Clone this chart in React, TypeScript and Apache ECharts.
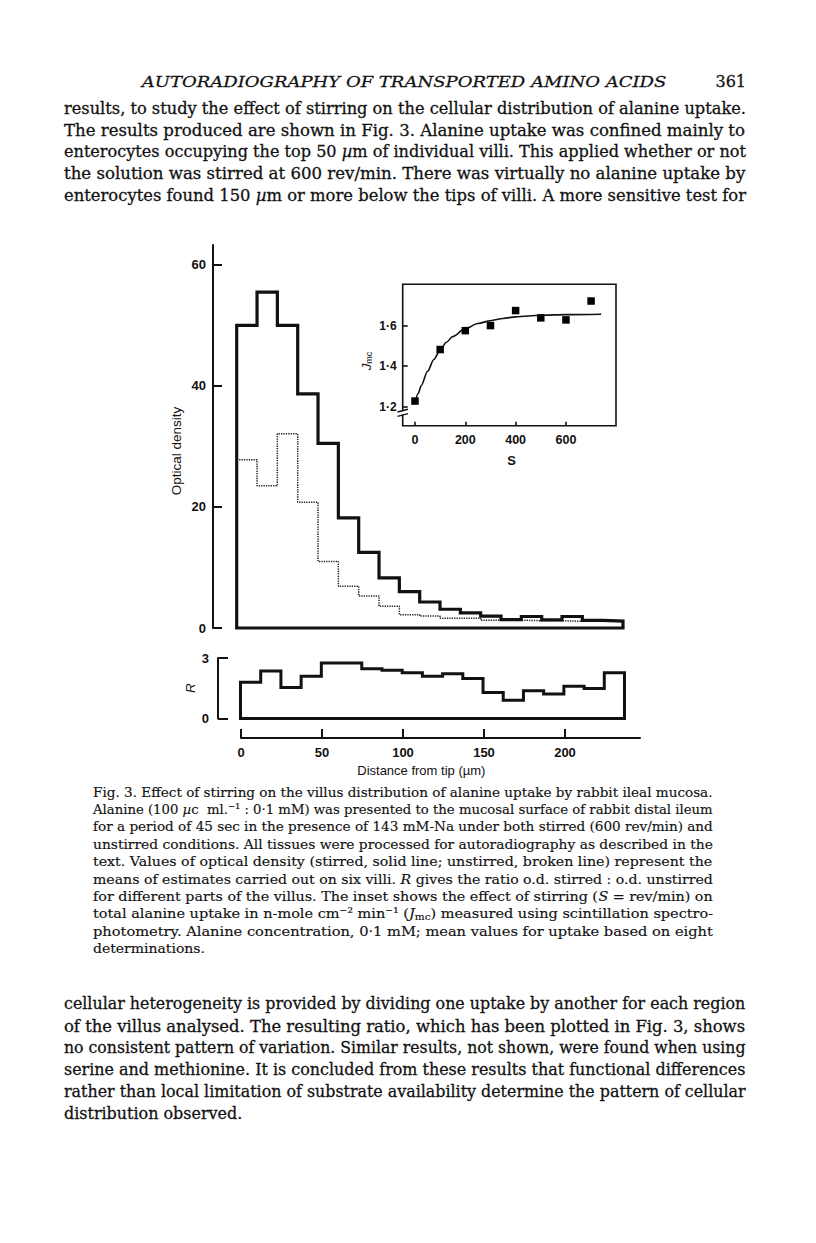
import React, { useEffect, useRef } from 'react';
import * as echarts from 'echarts';

// ---------------- data ----------------
const binEdges = [0, 12.5, 25, 37.5, 50, 62.5, 75, 87.5, 100, 112.5, 125, 137.5, 150, 162.5, 175, 187.5, 200, 212.5, 225, 237.5];
const stirredOD = [50, 55.5, 50, 38.7, 30.5, 18.2, 12.5, 8.3, 6.0, 4.3, 3.1, 2.5, 1.95, 1.4, 1.9, 1.35, 1.9, 1.25, 1.15];
const unstirredOD = [27.8, 23.5, 32.1, 20.8, 11.0, 6.9, 5.3, 3.6, 2.2, 2.0, 1.6, 1.6, 1.3, 1.3, 1.2, 1.2, 1.1, 1.1, 1.1];
const ratioR = [1.8, 2.35, 1.54, 2.09, 2.75, 2.75, 2.47, 2.39, 2.27, 2.09, 2.22, 1.98, 1.29, 0.91, 1.37, 1.21, 1.6, 1.49, 2.27];
const distanceTicks = [0, 50, 100, 150, 200];
const odTicks = [0, 20, 40, 60];
const rTicks = [0, 3];

const stirRate = [0, 100, 200, 300, 400, 500, 600, 700];
const jmcMeasured = [1.228, 1.482, 1.575, 1.6, 1.674, 1.638, 1.628, 1.721];
const fitRate = [0, 12.5, 25, 50, 75, 100, 125, 150, 200, 250, 300, 350, 400, 500, 600, 740];
const fitJmc = [1.22, 1.265, 1.305, 1.375, 1.433, 1.48, 1.518, 1.546, 1.585, 1.61, 1.624, 1.635, 1.643, 1.651, 1.654, 1.656];
const insetXTicks = [0, 200, 400, 600];
const insetYTicks = [1.2, 1.4, 1.6];

// ---------------- text ----------------
const headerTitle = 'AUTORADIOGRAPHY OF TRANSPORTED AMINO ACIDS';
const pageNumber = '361';
const paragraphTop = [
  'results, to study the effect of stirring on the cellular distribution of alanine uptake.',
  'The results produced are shown in Fig. 3. Alanine uptake was confined mainly to',
  'enterocytes occupying the top 50 {i|µ}m of individual villi. This applied whether or not',
  'the solution was stirred at 600 rev/min. There was virtually no alanine uptake by',
  'enterocytes found 150 {i|µ}m or more below the tips of villi. A more sensitive test for',
];
const captionLines = [
  'Fig. 3. Effect of stirring on the villus distribution of alanine uptake by rabbit ileal mucosa.',
  'Alanine (100 {i|µ}c  ml.⁻¹ : 0·1 mM) was presented to the mucosal surface of rabbit distal ileum',
  'for a period of 45 sec in the presence of 143 mM-Na under both stirred (600 rev/min) and',
  'unstirred conditions. All tissues were processed for autoradiography as described in the',
  'text. Values of optical density (stirred, solid line; unstirred, broken line) represent the',
  'means of estimates carried out on six villi. {i|R} gives the ratio o.d. stirred : o.d. unstirred',
  'for different parts of the villus. The inset shows the effect of stirring ({i|S} = rev/min) on',
  'total alanine uptake in n-mole cm⁻² min⁻¹ ({i|J}{sub|mc}) measured using scintillation spectro-',
  'photometry. Alanine concentration, 0·1 mM; mean values for uptake based on eight',
  'determinations.',
];
const paragraphBottom = [
  'cellular heterogeneity is provided by dividing one uptake by another for each region',
  'of the villus analysed. The resulting ratio, which has been plotted in Fig. 3, shows',
  'no consistent pattern of variation. Similar results, not shown, were found when using',
  'serine and methionine. It is concluded from these results that functional differences',
  'rather than local limitation of substrate availability determine the pattern of cellular',
  'distribution observed.',
];
const odAxisName = 'Optical density';
const rAxisName = 'R';
const distanceAxisName = 'Distance from tip (µm)';
const insetXName = 'S';

// ---------------- helpers ----------------
const SERIF = '"DejaVu Serif", "Liberation Serif", serif';
const SANS = '"Liberation Sans", Arial, Helvetica, sans-serif';
const INK = '#111';

let mctx: CanvasRenderingContext2D | null = null;
function measure(text: string, font: string): number {
  if (!mctx) mctx = document.createElement('canvas').getContext('2d');
  mctx!.font = font;
  return mctx!.measureText(text).width;
}
function parseRich(line: string) {
  const re = /\{(\w+)\|([^}]*)\}/g;
  const out: { s: string | null; t: string }[] = [];
  let last = 0;
  let m: RegExpExecArray | null;
  while ((m = re.exec(line))) {
    if (m.index > last) out.push({ s: null, t: line.slice(last, m.index) });
    out.push({ s: m[1], t: m[2] });
    last = re.lastIndex;
  }
  if (last < line.length) out.push({ s: null, t: line.slice(last) });
  return out;
}
function richWidth(line: string, size: number, italicBase: boolean) {
  return parseRich(line).reduce((w, seg) => {
    let font: string;
    if (seg.s === 'sub') font = `${size * 0.72}px ${SERIF}`;
    else if (seg.s === 'i' || italicBase) font = `italic ${size}px ${SERIF}`;
    else font = `${size}px ${SERIF}`;
    return w + measure(seg.t, font);
  }, 0);
}
function richStyles(size: number, stroke: number) {
  return {
    i: { fontStyle: 'italic', fontFamily: SERIF, fontSize: size, lineHeight: size * 1.2, fill: INK, stroke: INK, lineWidth: stroke },
    sub: { fontFamily: SERIF, fontSize: size * 0.72, lineHeight: size * 0.7, verticalAlign: 'bottom', fill: INK, stroke: INK, lineWidth: stroke },
  };
}

interface Block {
  lines: string[];
  left: number;
  right: number;
  top: number;
  spacing: number;
  size: number;
  lastFree: boolean;
  italic?: boolean;
  stroke: number;
}
function textBlock(b: Block) {
  const W = b.right - b.left;
  const scales = b.lines.map((l) => W / richWidth(l, b.size, !!b.italic));
  const just = scales.filter((_, i) => !(b.lastFree && i === b.lines.length - 1));
  const avg = just.reduce((a, c) => a + c, 0) / just.length;
  return b.lines.map((l, i) => ({
    type: 'text',
    x: b.left,
    y: b.top + i * b.spacing,
    scaleX: b.lastFree && i === b.lines.length - 1 ? avg : scales[i],
    silent: true,
    z: 50,
    style: {
      text: l,
      fontFamily: SERIF,
      fontSize: b.size,
      fontStyle: b.italic ? 'italic' : 'normal',
      lineHeight: b.size * 1.2,
      fill: INK,
      stroke: INK,
      lineWidth: b.stroke,
      align: 'left',
      verticalAlign: 'middle',
      rich: richStyles(b.size, b.stroke),
    },
  }));
}

function stepOutline(values: number[]) {
  const pts: number[][] = [[binEdges[0], 0]];
  values.forEach((v, i) => pts.push([binEdges[i], v]));
  const lastEdge = binEdges[binEdges.length - 1];
  pts.push([lastEdge, values[values.length - 1]]);
  pts.push([lastEdge, 0]);
  pts.push([binEdges[0], 0]);
  return pts;
}
function stepOpen(values: number[]) {
  const pts: number[][] = values.map((v, i) => [binEdges[i], v]);
  pts.push([binEdges[binEdges.length - 1], values[values.length - 1]]);
  return pts;
}

const tickLabelStyle = { fontFamily: SANS, fontWeight: 'bold', fontSize: 13, color: INK };

function buildOption() {
  // panel geometry
  const main = { left: 236.7, top: 245, width: 386.3, height: 383 };
  const mainAxis = { left: 213, top: 245, width: 20, height: 383 };
  const rp = { left: 240.5, top: 658, width: 384, height: 60.5 };
  const rAxis = { left: 218, top: 658, width: 20, height: 60.5 };
  const ax = { left: 241, top: 737, width: 399, height: 1 };
  const ins = { left: 402.7, top: 284.3, width: 213.3, height: 141.4 };

  const graphics: any[] = [];
  graphics.push(
    ...textBlock({ lines: [headerTitle], left: 141.7, right: 666.7, top: 81.7, spacing: 0, size: 15.5, lastFree: false, italic: true, stroke: 0.25 })
  );
  graphics.push({
    type: 'text', x: 746, y: 81.7, silent: true, z: 50,
    style: { text: pageNumber, fontFamily: SERIF, fontSize: 16, fill: INK, stroke: INK, lineWidth: 0.3, align: 'right', verticalAlign: 'middle' },
  });
  graphics.push(...textBlock({ lines: paragraphTop, left: 64, right: 746, top: 108.3, spacing: 21.7, size: 17, lastFree: false, stroke: 0.3 }));
  graphics.push(...textBlock({ lines: captionLines, left: 93, right: 713, top: 791.7, spacing: 17.4, size: 13.5, lastFree: true, stroke: 0.15 }));
  graphics.push(...textBlock({ lines: paragraphBottom, left: 64, right: 746, top: 1003.5, spacing: 21.9, size: 17, lastFree: true, stroke: 0.3 }));

  // chart labels
  graphics.push({
    type: 'text', x: 176.7, y: 451, rotation: Math.PI / 2, silent: true, z: 50,
    style: { text: odAxisName, fontFamily: SANS, fontSize: 13.5, fill: INK, align: 'center', verticalAlign: 'middle' },
  });
  graphics.push({
    type: 'text', x: 190, y: 688, rotation: Math.PI / 2, silent: true, z: 50,
    style: { text: rAxisName, fontFamily: SANS, fontStyle: 'italic', fontSize: 13.5, fill: INK, align: 'center', verticalAlign: 'middle' },
  });
  graphics.push({
    type: 'text', x: 421.3, y: 770.7, silent: true, z: 50,
    style: { text: distanceAxisName, fontFamily: SANS, fontSize: 13, fill: INK, align: 'center', verticalAlign: 'middle' },
  });
  graphics.push({
    type: 'text', x: 511.7, y: 460, silent: true, z: 50,
    style: { text: insetXName, fontFamily: SANS, fontWeight: 'bold', fontSize: 13, fill: INK, align: 'center', verticalAlign: 'middle' },
  });
  graphics.push({
    type: 'text', x: 366.5, y: 361, rotation: Math.PI / 2, silent: true, z: 50,
    style: {
      text: '{j|J}{s|mc}', align: 'center', verticalAlign: 'middle', fill: INK,
      rich: {
        j: { fontFamily: SANS, fontStyle: 'italic', fontSize: 13.5, lineHeight: 14, fill: INK },
        s: { fontFamily: SANS, fontSize: 9, lineHeight: 8, verticalAlign: 'bottom', fill: INK },
      },
    },
  });
  // axis break on the inset's y axis
  graphics.push({ type: 'rect', silent: true, z: 60, shape: { x: 400.5, y: 410.6, width: 5, height: 4 }, style: { fill: '#fff' } });
  graphics.push({ type: 'line', silent: true, z: 61, shape: { x1: 397.5, y1: 412, x2: 408, y2: 409.2 }, style: { stroke: INK, lineWidth: 1.4 } });
  graphics.push({ type: 'line', silent: true, z: 61, shape: { x1: 397.5, y1: 416.4, x2: 408, y2: 413.6 }, style: { stroke: INK, lineWidth: 1.4 } });

  const noLine = { show: false, onZero: false };
  return {
    animation: false,
    backgroundColor: '#fff',
    grid: [
      { ...main, containLabel: false },
      { ...rp, containLabel: false },
      { ...ax, containLabel: false },
      { ...ins, containLabel: false, show: true, borderColor: INK, borderWidth: 1.6, backgroundColor: '#fff' },
      { ...mainAxis, containLabel: false },
      { ...rAxis, containLabel: false },
    ],
    xAxis: [
      { gridIndex: 0, type: 'value', min: 0, max: 237.5, show: false, axisLine: noLine },
      { gridIndex: 1, type: 'value', min: 0, max: 237.5, show: false, axisLine: noLine },
      {
        gridIndex: 2, type: 'value', min: 0, max: 246.3, position: 'bottom',
        axisLine: { show: true, onZero: false, lineStyle: { color: INK, width: 2 } },
        axisTick: { show: true, inside: true, length: 9, lineStyle: { color: INK, width: 2 }, customValues: distanceTicks },
        axisLabel: { ...tickLabelStyle, margin: 8, customValues: distanceTicks },
        splitLine: { show: false },
      },
      {
        gridIndex: 3, type: 'value', min: -48.9, max: 799, position: 'bottom',
        axisLine: noLine,
        axisTick: { show: true, inside: true, length: 4, lineStyle: { color: INK, width: 1.6 }, customValues: insetXTicks },
        axisLabel: { ...tickLabelStyle, fontSize: 12.5, margin: 8, customValues: insetXTicks },
        splitLine: { show: false },
      },
      { gridIndex: 4, type: 'value', min: 0, max: 1, show: false, axisLine: noLine },
      { gridIndex: 5, type: 'value', min: 0, max: 1, show: false, axisLine: noLine },
    ],
    yAxis: [
      { gridIndex: 0, type: 'value', min: 0, max: 63.3, show: false, axisLine: noLine },
      { gridIndex: 1, type: 'value', min: 0, max: 3, show: false, axisLine: noLine },
      { gridIndex: 2, type: 'value', min: 0, max: 1, show: false, axisLine: noLine },
      {
        gridIndex: 3, type: 'value', min: 1.1066, max: 1.8034, position: 'left',
        axisLine: noLine,
        axisTick: { show: true, inside: true, length: 5, lineStyle: { color: INK, width: 1.6 }, customValues: insetYTicks },
        axisLabel: {
          ...tickLabelStyle, fontSize: 12, margin: 6, customValues: insetYTicks,
          formatter: (v: number) => v.toFixed(1).replace('.', '·'),
        },
        splitLine: { show: false },
      },
      {
        gridIndex: 4, type: 'value', min: 0, max: 63.3, position: 'left',
        axisLine: { show: true, onZero: false, lineStyle: { color: INK, width: 2 } },
        axisTick: { show: true, inside: true, length: 9, lineStyle: { color: INK, width: 2 }, customValues: odTicks },
        axisLabel: { ...tickLabelStyle, margin: 7, customValues: odTicks },
        splitLine: { show: false },
      },
      {
        gridIndex: 5, type: 'value', min: 0, max: 3, position: 'left',
        axisLine: { show: true, onZero: false, lineStyle: { color: INK, width: 2 } },
        axisTick: { show: true, inside: true, length: 10, lineStyle: { color: INK, width: 2 }, customValues: rTicks },
        axisLabel: { ...tickLabelStyle, margin: 9, customValues: rTicks },
        splitLine: { show: false },
      },
    ],
    series: [
      {
        name: 'unstirred', type: 'line', xAxisIndex: 0, yAxisIndex: 0, step: 'end',
        data: stepOpen(unstirredOD), showSymbol: false, symbol: 'none', clip: false, z: 2,
        lineStyle: { color: '#222', width: 1.5, type: [1.3, 1.1] },
      },
      {
        name: 'stirred', type: 'line', xAxisIndex: 0, yAxisIndex: 0, step: 'end',
        data: stepOutline(stirredOD), showSymbol: false, symbol: 'none', clip: false, z: 3,
        lineStyle: { color: INK, width: 3.2, join: 'miter', cap: 'square' },
      },
      {
        name: 'R', type: 'line', xAxisIndex: 1, yAxisIndex: 1, step: 'end',
        data: stepOutline(ratioR), showSymbol: false, symbol: 'none', clip: false, z: 3,
        lineStyle: { color: INK, width: 3, join: 'miter', cap: 'square' },
      },
      {
        name: 'fit', type: 'line', xAxisIndex: 3, yAxisIndex: 3, smooth: 0.3, smoothMonotone: 'x',
        data: fitRate.map((s, i) => [s, fitJmc[i]]), showSymbol: false, symbol: 'none', z: 3,
        lineStyle: { color: INK, width: 1.6 },
      },
      {
        name: 'Jmc', type: 'scatter', xAxisIndex: 3, yAxisIndex: 3,
        data: stirRate.map((s, i) => [s, jmcMeasured[i]]), symbol: 'rect', symbolSize: 7.5, z: 4,
        itemStyle: { color: '#000', opacity: 1 },
      },
    ],
    graphic: { elements: graphics },
  };
}

export default function App() {
  const ref = useRef<HTMLDivElement>(null);
  useEffect(() => {
    const chart = echarts.init(ref.current!, null, { renderer: 'svg', width: 816, height: 1243 });
    chart.setOption(buildOption() as any);
    return () => chart.dispose();
  }, []);
  return (
    <div
      ref={ref}
      style={{ position: 'absolute', left: 0, top: 0, width: 816, height: 1243, background: '#fff' }}
    />
  );
}
